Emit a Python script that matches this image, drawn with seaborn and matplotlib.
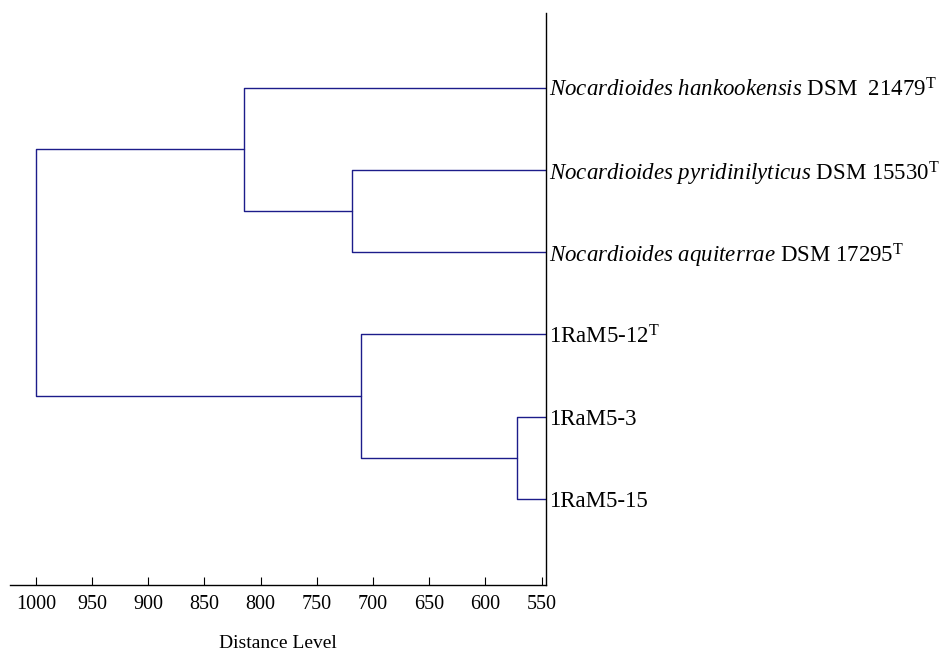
import pandas as pd
import matplotlib.pyplot as plt
import seaborn as sns

# Leaves, top to bottom
leaf_labels = [
    r"$\it{Nocardioides\ hankookensis}$ DSM  21479$^{\rm T}$",
    r"$\it{Nocardioides\ pyridinilyticus}$ DSM 15530$^{\rm T}$",
    r"$\it{Nocardioides\ aquiterrae}$ DSM 17295$^{\rm T}$",
    r"1RaM5-12$^{\rm T}$",
    "1RaM5-3",
    "1RaM5-15",
]
leaf_level = 546

# merges: (left child, right child, distance); ints < 6 are leaves, "mN" are merges
merge_names = ["m0", "m1", "m2", "m3", "m4"]
merge_left = [1, 0, 4, 3, "m1"]
merge_right = [2, "m0", 5, "m2", "m3"]
merge_height = [719, 815, 572, 711, 1000]
distance_ticks = [1000, 950, 900, 850, 800, 750, 700, 650, 600, 550]


def build_segments():
    pos = {i: i + 1 for i in range(len(leaf_labels))}
    hgt = {i: leaf_level for i in range(len(leaf_labels))}
    rows = []
    for k, (name, a, b, h) in enumerate(zip(merge_names, merge_left, merge_right, merge_height)):
        pts = [(hgt[a], pos[a]), (h, pos[a]), (h, pos[b]), (hgt[b], pos[b])]
        for j, (x, y) in enumerate(pts):
            rows.append({"seg": k, "order": j, "dist": x, "pos": y})
        pos[name] = (pos[a] + pos[b]) / 2
        hgt[name] = h
    return pd.DataFrame(rows)


sns.set_style("white")
plt.rcParams["font.family"] = ["Liberation Serif", "DejaVu Serif"]
plt.rcParams["mathtext.fontset"] = "custom"
plt.rcParams["mathtext.rm"] = "Liberation Serif"
plt.rcParams["mathtext.it"] = "Liberation Serif:italic"
plt.rcParams["text.color"] = "black"
plt.rcParams["xtick.color"] = "black"
plt.rcParams["ytick.color"] = "black"
plt.rcParams["axes.labelcolor"] = "black"

df = build_segments()

fig = plt.figure(figsize=(9.44, 6.53), dpi=100)
ax = fig.add_axes([10 / 944, 1 - 585 / 653, 536 / 944, 572 / 653])

sns.lineplot(data=df, x="dist", y="pos", units="seg", estimator=None,
             sort=False, color="#1c1c8a", linewidth=1.0, ax=ax, legend=False)

ax.set_xlim(1023, leaf_level)
ax.set_ylim(7.05, 0.09)
ax.set_xticks(distance_ticks)
ax.set_xticklabels([str(t) for t in distance_ticks], fontsize=14.5)
ax.tick_params(axis="x", direction="in", length=6, width=0.8, color="black",
               pad=7, bottom=True)

ax.yaxis.tick_right()
ax.set_yticks(range(1, len(leaf_labels) + 1))
ax.set_yticklabels(leaf_labels, fontsize=16.5)
ax.tick_params(axis="y", length=0, pad=2)

ax.set_xlabel("Distance Level", fontsize=14)
ax.xaxis.set_label_coords(0.5, -0.088)
ax.set_ylabel("")

for s in ["top", "left"]:
    ax.spines[s].set_visible(False)
for s in ["bottom", "right"]:
    ax.spines[s].set_visible(True)
    ax.spines[s].set_color("black")
    ax.spines[s].set_linewidth(1.0)

fig.savefig("out.png", dpi=100, facecolor="white")
